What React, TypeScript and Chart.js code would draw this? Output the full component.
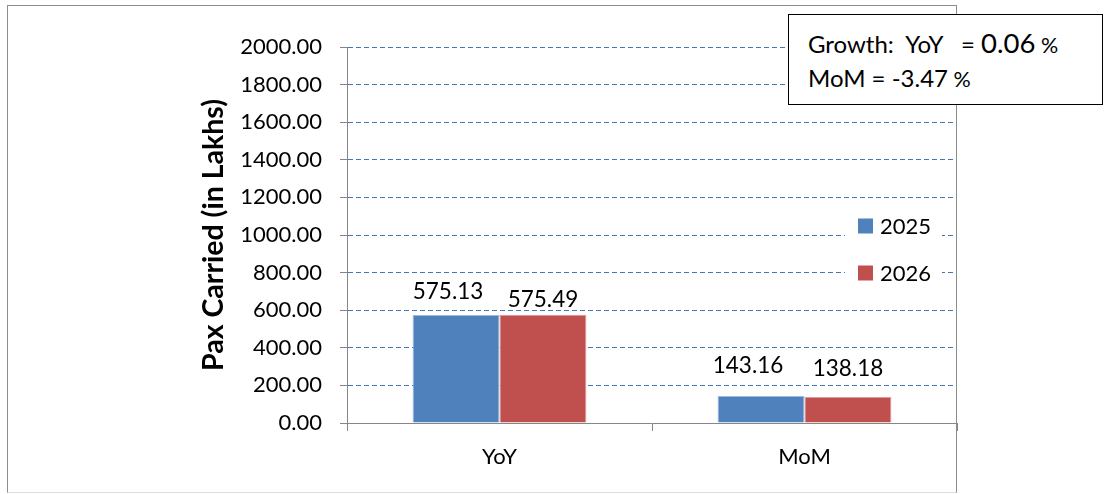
import React, { useEffect, useRef } from 'react';
import { Chart, registerables } from 'chart.js';

Chart.register(...registerables);

// ---- data ----
const categories: string[] = ['YoY', 'MoM'];
const seriesNames: string[] = ['2025', '2026'];
const values2025: number[] = [575.13, 143.16];
const values2026: number[] = [575.49, 138.18];
const yMin = 0;
const yMax = 2000;
const yStep = 200;
const axisTitle = 'Pax Carried (in Lakhs)';
const growthYoY = '0.06';
const growthMoM = '-3.47';

const FONT = 'Lato, "Noto Sans", sans-serif';
const BLUE = '#4F81BD';
const RED = '#C0504D';
const GRAY = '#868686';

const valueLabels = {
  id: 'valueLabels',
  afterDatasetsDraw(chart: any, _args: any, opts: any) {
    const ctx = chart.ctx;
    ctx.save();
    ctx.font = opts.font;
    ctx.fillStyle = '#000';
    ctx.textAlign = 'center';
    ctx.textBaseline = 'middle';
    chart.data.datasets.forEach((ds: any, di: number) => {
      const meta = chart.getDatasetMeta(di);
      meta.data.forEach((bar: any, i: number) => {
        const v = ds.data[i] as number;
        const s = opts.shifts[di][i];
        ctx.fillText(v.toFixed(2), bar.x + s[0], bar.y + s[1]);
      });
    });
    ctx.restore();
  },
};

const sideLegend = {
  id: 'sideLegend',
  afterDraw(chart: any, _args: any, opts: any) {
    const ctx = chart.ctx;
    ctx.save();
    ctx.fillStyle = '#fff';
    ctx.fillRect(opts.x, opts.y, opts.w, opts.h);
    chart.data.datasets.forEach((ds: any, i: number) => {
      const cy = opts.firstY + i * opts.rowH;
      ctx.fillStyle = ds.backgroundColor;
      ctx.fillRect(opts.boxX, cy - opts.box / 2, opts.box, opts.box);
      ctx.fillStyle = '#000';
      ctx.font = opts.font;
      ctx.textAlign = 'left';
      ctx.textBaseline = 'middle';
      ctx.fillText(ds.label, opts.textX, cy + 1);
    });
    ctx.restore();
  },
};

export default function App() {
  const ref = useRef<HTMLCanvasElement | null>(null);

  useEffect(() => {
    if (!ref.current) return;
    const chart = new Chart(ref.current, {
      type: 'bar',
      data: {
        labels: categories,
        datasets: [
          {
            label: seriesNames[0],
            data: values2025,
            backgroundColor: BLUE,
            borderColor: '#9fb9dc',
            borderWidth: 1,
            categoryPercentage: 0.57,
            barPercentage: 1,
          },
          {
            label: seriesNames[1],
            data: values2026,
            backgroundColor: RED,
            borderColor: '#dc9e9c',
            borderWidth: 1,
            categoryPercentage: 0.57,
            barPercentage: 1,
          },
        ],
      },
      plugins: [valueLabels, sideLegend],
      options: {
        responsive: false,
        animation: false,
        layout: { padding: { left: 197, top: 47, right: 149, bottom: 0 } },
        plugins: {
          legend: { display: false },
          tooltip: { enabled: false },
          valueLabels: {
            font: `22.5px ${FONT}`,
            shifts: [
              [[-8, -23], [-13, -30]],
              [[0, -15], [0, -28]],
            ],
          },
          sideLegend: {
            x: 845, y: 205, w: 97, h: 88,
            boxX: 858, box: 15, textX: 880,
            firstY: 226, rowH: 47,
            font: `22px ${FONT}`,
          },
        } as any,
        scales: {
          x: {
            offset: true,
            grid: {
              offset: true,
              drawOnChartArea: false,
              drawTicks: true,
              tickLength: 8,
              tickColor: GRAY,
              tickWidth: 1,
              color: GRAY,
            },
            border: { color: GRAY, width: 1 },
            ticks: { font: { family: FONT, size: 22 }, color: '#000', padding: 13 },
            afterFit: (s: any) => { s.height = 71; },
          },
          y: {
            min: yMin,
            max: yMax,
            ticks: {
              stepSize: yStep,
              callback: (v: any) => Number(v).toFixed(2),
              font: { family: FONT, size: 22 },
              color: '#000',
              padding: 18,
            },
            grid: {
              color: (c: any) => (c.tick && c.tick.value === 0 ? 'rgba(0,0,0,0)' : '#4577b8'),
              lineWidth: 1,
              drawTicks: true,
              tickLength: 7,
              tickColor: GRAY,
              tickWidth: 1,
              tickBorderDash: [],
            } as any,
            border: { color: GRAY, width: 1, dash: [5, 3] },
            title: {
              display: true,
              text: axisTitle,
              font: { family: FONT, size: 28.5, weight: 'bold' },
              color: '#000',
              padding: 0,
            },
            afterFit: (s: any) => { s.width = 150; },
          },
        },
      },
    });
    return () => chart.destroy();
  }, []);

  return (
    <div style={{ position: 'absolute', left: 0, top: 0, width: 1106, height: 494, background: '#fff', overflow: 'hidden' }}>
      <canvas ref={ref} width={1106} height={494} style={{ position: 'absolute', left: 0, top: 0, width: 1106, height: 494 }} />
      <div
        style={{
          position: 'absolute', left: 7, top: 5, width: 950, height: 488, boxSizing: 'border-box',
          borderTop: '1px solid #8c8c8c', borderLeft: '1px solid #8c8c8c', borderRight: '1px solid #8c8c8c',
          borderBottom: '1px solid #dedede', pointerEvents: 'none',
        }}
      />
      <div
        style={{
          position: 'absolute', left: 788, top: 14, width: 315, height: 91, boxSizing: 'border-box',
          border: '1px solid #000', background: '#fff', fontFamily: FONT, color: '#000',
        }}
      >
        <div style={{ position: 'absolute', left: 19, top: 14, whiteSpace: 'pre', fontSize: 24, lineHeight: '27px' }}>
          {'Growth:  YoY   = '}<span style={{ fontSize: 27.5 }}>{growthYoY}</span><span style={{ fontSize: 21.5 }}>{' %'}</span>
        </div>
        <div style={{ position: 'absolute', left: 19, top: 49, whiteSpace: 'pre', fontSize: 24, lineHeight: '27px' }}>
          {'MoM = ' + growthMoM}<span style={{ fontSize: 21.5 }}>{' %'}</span>
        </div>
      </div>
    </div>
  );
}
